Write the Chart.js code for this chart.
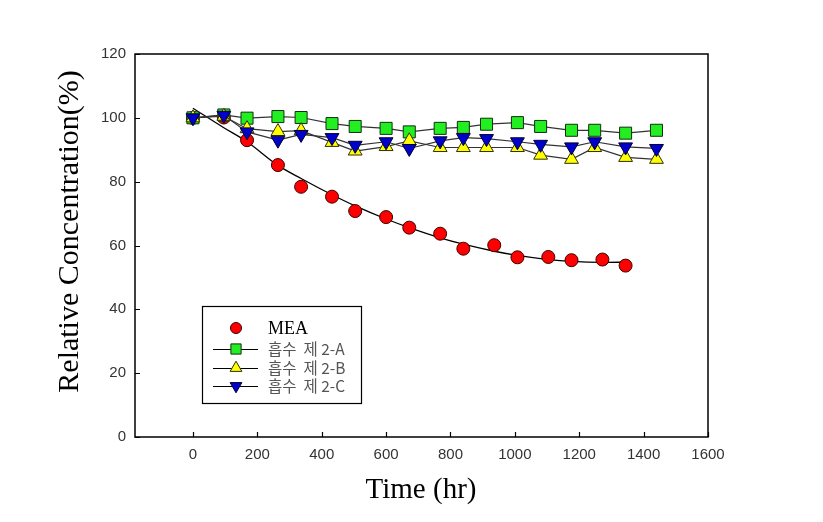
<!DOCTYPE html>
<html>
<head>
<meta charset="utf-8">
<script src="https://cdn.jsdelivr.net/npm/chart.js@4.4.0/dist/chart.umd.min.js"></script>
<style>
    html, body { margin: 0; padding: 0; background: #fff; }
    #wrap { width: 823px; height: 522px; position: relative; }
</style>
</head>
<body>
<div id="wrap"><canvas id="chart"></canvas></div>
<script>
// Time points (hr)
const meaTimes = [0, 96, 168, 264, 336, 432, 504, 600, 672, 768, 840, 936, 1008, 1104, 1176, 1272, 1344];
const absTimes = [0, 96, 168, 264, 336, 432, 504, 600, 672, 768, 840, 912, 1008, 1080, 1176, 1248, 1344, 1440];

// Relative concentration (%)
const meaValues = [100, 100.1, 93.0, 85.2, 78.4, 75.3, 70.8, 68.9, 65.6, 63.7, 59.0, 60.1, 56.3, 56.4, 55.4, 55.6, 53.7];
const fitValues = [103, 96.9, 92.5, 85.1, 81.0, 75.9, 72.4, 68.3, 65.6, 62.4, 60.4, 58.2, 56.9, 55.6, 55.0, 54.7, 54.8];
const absAValues = [100, 100.9, 99.9, 100.4, 100.1, 98.2, 97.3, 96.7, 95.6, 96.7, 97.0, 98.0, 98.5, 97.3, 96.1, 96.1, 95.2, 96.1];
const absBValues = [100, 100.5, 96.6, 95.7, 96.0, 92.3, 89.6, 91.0, 92.8, 90.7, 90.7, 90.7, 90.7, 88.3, 87.0, 90.7, 87.6, 87.0];
const absCValues = [100, 100.8, 95.6, 93.0, 94.8, 93.8, 91.4, 92.5, 90.4, 92.8, 93.8, 93.5, 92.5, 91.7, 90.9, 92.5, 90.9, 90.4];

// Axis ticks
const xTicks = [0, 200, 400, 600, 800, 1000, 1200, 1400, 1600];
const yTicks = [0, 20, 40, 60, 80, 100, 120];

const labels = ['MEA', '흡수  제 2-A', '흡수  제 2-B', '흡수  제 2-C'];

const toPoints = (xs, ys) => xs.map((x, i) => ({ x: x, y: ys[i] }));

// inward tick marks, frame and axis titles
const frameTicks = {
    id: 'frameTicks',
    afterDraw(chart) {
        const { ctx, chartArea: a, scales } = chart;
        ctx.save();
        ctx.strokeStyle = '#000';
        ctx.lineWidth = 1.5;
        ctx.strokeRect(a.left, a.top, a.right - a.left, a.bottom - a.top);
        ctx.lineWidth = 1.2;
        ctx.beginPath();
        xTicks.forEach(v => {
            const px = Math.round(scales.x.getPixelForValue(v)) + 0.5;
            ctx.moveTo(px, a.bottom);
            ctx.lineTo(px, a.bottom - 5);
        });
        yTicks.forEach(v => {
            const py = Math.round(scales.y.getPixelForValue(v)) + 0.5;
            ctx.moveTo(a.left, py);
            ctx.lineTo(a.left + 5, py);
        });
        ctx.stroke();

        ctx.fillStyle = '#000';
        ctx.font = '29px "Liberation Serif", "Times New Roman", serif';
        ctx.textAlign = 'center';
        ctx.textBaseline = 'middle';
        ctx.fillText('Time (hr)', (a.left + a.right) / 2 - 0.5, 490);
        ctx.font = '30px "Liberation Serif", "Times New Roman", serif';
        ctx.translate(70, (a.top + a.bottom) / 2 - 14);
        ctx.rotate(-Math.PI / 2);
        ctx.fillText('Relative Concentration(%)', 0, 0);
        ctx.restore();
    }
};

// boxed legend like the original
const boxLegend = {
    id: 'boxLegend',
    afterDraw(chart) {
        const { ctx } = chart;
        const ds = chart.data.datasets;
        ctx.save();
        ctx.fillStyle = '#fff';
        ctx.fillRect(202, 306, 160, 98);
        ctx.strokeStyle = '#000';
        ctx.lineWidth = 1.2;
        ctx.strokeRect(202.5, 306.5, 159, 97);

        const rows = [328, 349, 368, 386];
        rows.forEach((y, i) => {
            const d = ds[i + 1];
            if (d.showLine !== false) {
                ctx.strokeStyle = '#000';
                ctx.lineWidth = 1;
                ctx.beginPath();
                ctx.moveTo(213, y + 0.5);
                ctx.lineTo(258, y + 0.5);
                ctx.stroke();
            }
            ctx.fillStyle = d.pointBackgroundColor;
            ctx.strokeStyle = d.pointBorderColor;
            ctx.lineWidth = 1;
            Chart.helpers.drawPoint(ctx, {
                pointStyle: d.pointStyle,
                rotation: d.pointRotation || 0,
                radius: d.pointRadius * 0.85,
                borderWidth: 1
            }, 236, y);
            ctx.textAlign = 'left';
            ctx.textBaseline = 'middle';
            if (i === 0) {
                ctx.fillStyle = '#000';
                ctx.font = '18px "Liberation Serif", "Times New Roman", serif';
                ctx.fillText(labels[i], 268, y + 1);
            } else {
                ctx.fillStyle = '#555';
                ctx.font = '15.5px "Noto Sans CJK KR", sans-serif';
                ctx.fillText(labels[i], 268, y);
            }
        });
        ctx.restore();
    }
};

const tickFont = { family: '"Liberation Sans", Arial, sans-serif', size: 15 };

const chartCanvas = document.getElementById('chart');
new Chart(chartCanvas, {
    type: 'scatter',
    data: {
        datasets: [
            {
                label: 'fit',
                data: toPoints(meaTimes, fitValues),
                showLine: true,
                borderColor: '#000',
                borderWidth: 1.3,
                pointRadius: 0,
                tension: 0.4,
                cubicInterpolationMode: 'monotone',
                order: 5
            },
            {
                label: labels[0],
                data: toPoints(meaTimes, meaValues),
                showLine: false,
                pointStyle: 'circle',
                pointRadius: 6.5,
                pointBackgroundColor: '#ff0000',
                pointBorderColor: '#400000',
                pointBorderWidth: 1,
                order: 4
            },
            {
                label: labels[1],
                data: toPoints(absTimes, absAValues),
                showLine: true,
                borderColor: '#333',
                borderWidth: 1.2,
                pointStyle: 'rect',
                pointRadius: 8.5,
                pointBackgroundColor: '#22ee22',
                pointBorderColor: '#103010',
                pointBorderWidth: 1,
                order: 3
            },
            {
                label: labels[2],
                data: toPoints(absTimes, absBValues),
                showLine: true,
                borderColor: '#333',
                borderWidth: 1.2,
                pointStyle: 'triangle',
                pointRadius: 8,
                pointBackgroundColor: '#ffff00',
                pointBorderColor: '#303000',
                pointBorderWidth: 1,
                order: 2
            },
            {
                label: labels[3],
                data: toPoints(absTimes, absCValues),
                showLine: true,
                borderColor: '#333',
                borderWidth: 1.2,
                pointStyle: 'triangle',
                pointRotation: 180,
                pointRadius: 8,
                pointBackgroundColor: '#0000cc',
                pointBorderColor: '#000030',
                pointBorderWidth: 1,
                order: 1
            }
        ]
    },
    options: {
        responsive: true,
        maintainAspectRatio: false,
        animation: false,
        layout: { padding: { top: 54, right: 115, left: 0, bottom: 0 } },
        plugins: {
            legend: { display: false },
            tooltip: { enabled: false }
        },
        scales: {
            x: {
                type: 'linear',
                min: -180,
                max: 1600,
                afterBuildTicks: s => { s.ticks = xTicks.map(v => ({ value: v })); },
                afterFit: s => { s.height = 85; },
                border: { display: false },
                grid: { display: false, drawTicks: false },
                ticks: {
                    padding: 9,
                    maxRotation: 0,
                    color: '#333',
                    font: tickFont,
                    callback: v => String(v)
                }
            },
            y: {
                min: 0,
                max: 120,
                afterBuildTicks: s => { s.ticks = yTicks.map(v => ({ value: v })); },
                afterFit: s => { s.width = 135; },
                border: { display: false },
                grid: { display: false, drawTicks: false },
                ticks: {
                    padding: 9,
                    color: '#333',
                    font: tickFont,
                    callback: v => String(v)
                }
            }
        }
    },
    plugins: [frameTicks, boxLegend]
});
</script>
</body>
</html>
